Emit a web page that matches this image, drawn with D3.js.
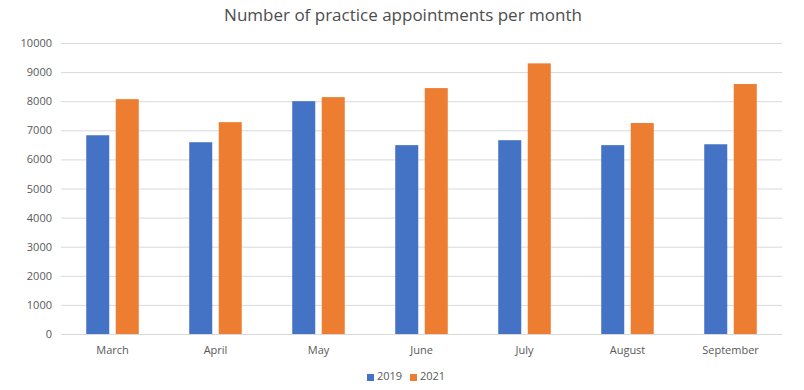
<!DOCTYPE html>
<html>
<head>
<meta charset="utf-8">
<script src="https://cdn.jsdelivr.net/npm/d3@7"></script>
<style>
  html, body { margin: 0; padding: 0; background: #fff; }
  svg text { font-family: "Open Sans", "Liberation Sans", sans-serif; }
</style>
</head>
<body>
<div id="chart"></div>
<script>
const months = ["March", "April", "May", "June", "July", "August", "September"];
const seriesNames = ["2019", "2021"];
const values2019 = [6830, 6590, 8000, 6490, 6660, 6490, 6520];
const values2021 = [8070, 7280, 8140, 8450, 9300, 7250, 8590];
const yTicks = [0, 1000, 2000, 3000, 4000, 5000, 6000, 7000, 8000, 9000, 10000];
const colors = ["#4472C4", "#ED7D31"];

const W = 804, H = 390;
const margin = { top: 43, right: 22, bottom: 56, left: 61 };

const rows = months.map((m, i) => ({ month: m, vals: [values2019[i], values2021[i]] }));

const svg = d3.select("#chart").append("svg")
  .attr("width", W).attr("height", H);

// ---- Scales ----
const x0 = d3.scaleBand().domain(months)
  .range([margin.left, W - margin.right])
  .paddingInner(0.49).paddingOuter(0.245);
const x1 = d3.scaleBand().domain(seriesNames)
  .range([0, x0.bandwidth()]).paddingInner(0.22);
const y = d3.scaleLinear().domain([0, 10000]).range([H - margin.bottom, margin.top]);

// ---- Title ----
svg.append("text")
  .attr("x", 403).attr("y", 21)
  .attr("text-anchor", "middle")
  .attr("fill", "#4d4d4d")
  .attr("font-size", 17)
  .text("Number of practice appointments per month");

// ---- Gridlines + y labels ----
const yAxis = svg.append("g")
  .attr("transform", `translate(${margin.left},0)`)
  .call(d3.axisLeft(y).tickValues(yTicks).tickFormat(d3.format("d"))
    .tickSize(-(W - margin.left - margin.right)).tickPadding(9));
yAxis.select(".domain").remove();
yAxis.selectAll(".tick line").attr("stroke", "#d9d9d9").attr("stroke-width", 1);
yAxis.selectAll(".tick text")
  .attr("fill", "#595959").attr("font-size", 11);

// ---- Bars ----
svg.append("g")
  .selectAll("g")
  .data(rows)
  .join("g")
  .attr("transform", d => `translate(${x0(d.month)},0)`)
  .selectAll("rect")
  .data(d => d.vals.map((v, i) => ({ key: seriesNames[i], v, i })))
  .join("rect")
  .attr("x", d => x1(d.key))
  .attr("y", d => y(d.v))
  .attr("width", x1.bandwidth())
  .attr("height", d => y(0) - y(d.v))
  .attr("fill", d => colors[d.i]);

// ---- X axis ----
const xAxis = svg.append("g")
  .attr("transform", `translate(0,${y(0)})`)
  .call(d3.axisBottom(x0).tickSize(0).tickPadding(12));
xAxis.select(".domain").attr("stroke", "#d9d9d9");
xAxis.selectAll(".tick text").attr("fill", "#595959").attr("font-size", 11);

// ---- Legend ----
const legend = svg.append("g").attr("transform", "translate(367,374)");
const legendX = [0, 43];
seriesNames.forEach((s, i) => {
  const g = legend.append("g").attr("transform", `translate(${legendX[i]},0)`);
  g.append("rect").attr("width", 7).attr("height", 7).attr("y", 0).attr("fill", colors[i]);
  g.append("text").attr("x", 10).attr("y", 3.5)
    .attr("dominant-baseline", "middle")
    .attr("fill", "#595959").attr("font-size", 11)
    .text(s);
});
</script>
</body>
</html>
